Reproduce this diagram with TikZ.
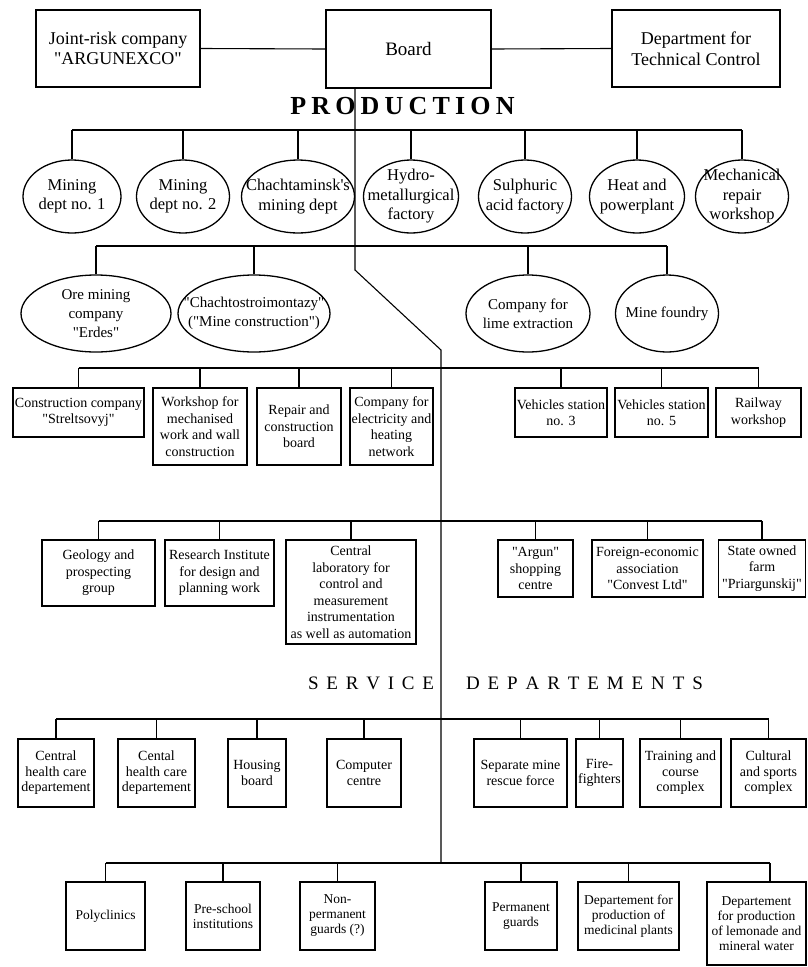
\documentclass[tikz,border=0pt]{standalone}
\usepackage{fontspec}
\setmainfont{Liberation Serif}[Ligatures=TeXOff]
\usetikzlibrary{shapes.geometric}
\newcommand\myfs[2]{\fontsize{#1}{#2}\selectfont}
\begin{document}
\begin{tikzpicture}[x=1pt,y=-1pt,
  box/.style={draw, line width=1.3pt, align=center, inner sep=1pt},
  topbox/.style={box, font=\myfs{18}{20.5}},
  rowa/.style={box, font=\myfs{14}{16.5}},
  rowb/.style={box, font=\myfs{14}{15.5}},
  rowc/.style={box, font=\myfs{13.5}{15}},
  ell/.style={draw, ellipse, line width=1.3pt, inner sep=0pt},
  elltxta/.style={align=center, inner sep=0pt, font=\myfs{16.5}{19.5}},
  elltxtb/.style={align=center, inner sep=0pt, font=\myfs{15}{19}},
  conn/.style={line width=1.1pt},
  heading/.style={inner sep=0pt}]
\useasboundingbox (0,0) rectangle (807,967);

% top row
\node[topbox, minimum width=164, minimum height=77] (jr) at (118,48.5) {Joint-risk company\\"ARGUNEXCO"};
\node[topbox, font=\myfs{19}{21}, minimum width=165, minimum height=78] (board) at (408.5,49) {Board};
\node[topbox, minimum width=168, minimum height=77] (dtc) at (696,48.5) {Department for\\Technical Control};
\draw[conn] (jr.east) -- (board.west);
\draw[conn] (board.east) -- (dtc.west);

\node[heading, font=\myfs{26}{30}\bfseries] (prod) at (402.5,106) {P\kern5.2pt R\kern5.2pt O\kern5.2pt D\kern5.2pt U\kern5.2pt C\kern5.2pt T\kern5.2pt I\kern5.2pt O\kern5.2pt N};

% bus coordinates
\coordinate (b1) at (0,130);
\coordinate (b2) at (0,246);
\coordinate (b3) at (0,368);
\coordinate (b4) at (0,521);
\coordinate (b5) at (0,719);
\coordinate (b6) at (0,863);

% main line
\coordinate (m1) at (355,270);
\coordinate (m2) at (441,350);
\coordinate (m3) at (441,863);
\draw[conn] (board.south -| m1) -- (m1) -- (m2) -- (m3);

% ellipse row 1
\node[ell, minimum width=98, minimum height=73] (e1) at (72,196.5) {};
\node[ell, minimum width=93, minimum height=73] (e2) at (183,196.5) {};
\node[ell, minimum width=113, minimum height=73] (e3) at (298,196.5) {};
\node[ell, minimum width=95, minimum height=73] (e4) at (411,196.5) {};
\node[ell, minimum width=93, minimum height=73] (e5) at (525,196.5) {};
\node[ell, minimum width=95, minimum height=73] (e6) at (637,196.5) {};
\node[ell, minimum width=93, minimum height=73] (e7) at (742,196.5) {};
\node[elltxta] (e1t) at (e1) {Mining\\dept no. 1};
\node[elltxta] (e2t) at (e2) {Mining\\dept no. 2};
\node[elltxta] (e3t) at (e3) {Chachtaminsk's\\mining dept};
\node[elltxta] (e4t) at (e4) {Hydro-\\metallurgical\\factory};
\node[elltxta] (e5t) at (e5) {Sulphuric\\acid factory};
\node[elltxta] (e6t) at (e6) {Heat and\\powerplant};
\node[elltxta] (e7t) at (e7) {Mechanical\\repair\\workshop};
\draw[conn] (e1.north |- b1) -- (e7.north |- b1);
\foreach \n in {e1,e2,e3,e4,e5,e6,e7} \draw[conn] (\n.north) -- (\n.north |- b1);

% ellipse row 2
\node[ell, minimum width=150, minimum height=77] (f1) at (96,313.5) {};
\node[ell, minimum width=152, minimum height=77] (f2) at (254,313.5) {};
\node[ell, minimum width=124, minimum height=77] (f3) at (528,313.5) {};
\node[ell, minimum width=103, minimum height=77] (f4) at (667,313.5) {};
\node[elltxtb] (f1t) at (f1) {Ore mining\\company\\"Erdes"};
\node[elltxtb] (f2t) at (f2) {"Chachtostroimontazy"\\("Mine construction")};
\node[elltxtb] (f3t) at (f3) {Company for\\lime extraction};
\node[elltxtb] (f4t) at (f4) {Mine foundry};
\draw[conn] (f1.north |- b2) -- (f4.north |- b2);
\foreach \n in {f1,f2,f3,f4} \draw[conn] (\n.north) -- (\n.north |- b2);

% box row 3
\node[rowa, minimum width=131, minimum height=49] (g1) at (78.5,412.5) {Construction company\\"Streltsovyj"};
\node[rowa, minimum width=94, minimum height=77] (g2) at (200,426.5) {Workshop for\\mechanised\\work and wall\\construction};
\node[rowa, minimum width=84, minimum height=77] (g3) at (299,426.5) {Repair and\\construction\\board};
\node[rowa, minimum width=83, minimum height=77] (g4) at (391.5,426.5) {Company for\\electricity and\\heating\\network};
\node[rowa, minimum width=92, minimum height=49] (g5) at (561,412.5) {Vehicles station\\no. 3};
\node[rowa, minimum width=93, minimum height=49] (g6) at (661.5,412.5) {Vehicles station\\no. 5};
\node[rowa, minimum width=85, minimum height=49] (g7) at (758.5,412.5) {Railway\\workshop};
\draw[conn] (g1.north |- b3) -- (g7.north |- b3);
\foreach \n in {g1,g2,g3,g4,g5,g6,g7} \draw[conn] (\n.north) -- (\n.north |- b3);

% box row 4
\node[rowa, minimum width=113, minimum height=66] (h1) at (98.5,573) {Geology and\\prospecting\\group};
\node[rowa, minimum width=109, minimum height=66] (h2) at (219.5,573) {Research Institute\\for design and\\planning work};
\node[rowa, minimum width=130, minimum height=104] (h3) at (351,592) {Central\\laboratory for\\control and\\measurement\\instrumentation\\as well as automation};
\node[rowa, minimum width=75, minimum height=57] (h4) at (535.5,568.5) {"Argun"\\shopping\\centre};
\node[rowa, minimum width=111, minimum height=57] (h5) at (647.5,568.5) {Foreign-economic\\association\\"Convest Ltd"};
\node[rowa, minimum width=87, minimum height=57] (h6) at (762,568.5) {State owned\\farm\\"Priargunskij"};
\draw[conn] (h1.north |- b4) -- (h6.north |- b4);
\foreach \n in {h1,h2,h3,h4,h5,h6} \draw[conn] (\n.north) -- (\n.north |- b4);

% service heading
\node[heading, font=\myfs{19}{22}] (serv) at (371,683) {S\kern7.8pt E\kern7.8pt R\kern7.8pt V\kern7.8pt I\kern7.8pt C\kern7.8pt E};
\node[heading, font=\myfs{19}{22}] (deps) at (584.5,683) {D\kern7.9pt E\kern7.9pt P\kern7.9pt A\kern7.9pt R\kern7.9pt T\kern7.9pt E\kern7.9pt M\kern7.9pt E\kern7.9pt N\kern7.9pt T\kern7.9pt S};

% box row 5
\node[rowb, minimum width=76, minimum height=68] (i1) at (56,773) {Central\\health care\\departement};
\node[rowb, minimum width=77, minimum height=68] (i2) at (156.5,773) {Cental\\health care\\departement};
\node[rowb, minimum width=58, minimum height=68] (i3) at (257,773) {Housing\\board};
\node[rowb, minimum width=74, minimum height=68] (i4) at (364,773) {Computer\\centre};
\node[rowb, minimum width=93, minimum height=68] (i5) at (520.5,773) {Separate mine\\rescue force};
\node[rowb, minimum width=47, minimum height=68] (i6) at (599.5,773) {Fire-\\fighters};
\node[rowb, minimum width=81, minimum height=68] (i7) at (680.5,773) {Training and\\course\\complex};
\node[rowb, minimum width=75, minimum height=68] (i8) at (768.5,773) {Cultural\\and sports\\complex};
\draw[conn] (i1.north |- b5) -- (i8.north |- b5);
\foreach \n in {i1,i2,i3,i4,i5,i6,i7,i8} \draw[conn] (\n.north) -- (\n.north |- b5);

% box row 6
\node[rowc, minimum width=79, minimum height=68] (j1) at (105.5,916) {Polyclinics};
\node[rowc, minimum width=74, minimum height=68] (j2) at (223,916) {Pre-school\\institutions};
\node[rowc, minimum width=75, minimum height=68] (j3) at (337.5,916) {Non-\\permanent\\guards (?)};
\node[rowc, minimum width=72, minimum height=68] (j4) at (521,916) {Permanent\\guards};
\node[rowc, minimum width=101, minimum height=68] (j5) at (628.5,916) {Departement for\\production of\\medicinal plants};
\node[rowc, minimum width=99, minimum height=83] (j6) at (756.5,923.5) {Departement\\for production\\of lemonade and\\mineral water};
\draw[conn] (j1.north |- b6) -- ([xshift=13.5pt]j6.north |- b6);
\foreach \n in {j1,j2,j3,j4,j5} \draw[conn] (\n.north) -- (\n.north |- b6);
\draw[conn] ([xshift=13.5pt]j6.north) -- ([xshift=13.5pt]j6.north |- b6);
\end{tikzpicture}
\end{document}
